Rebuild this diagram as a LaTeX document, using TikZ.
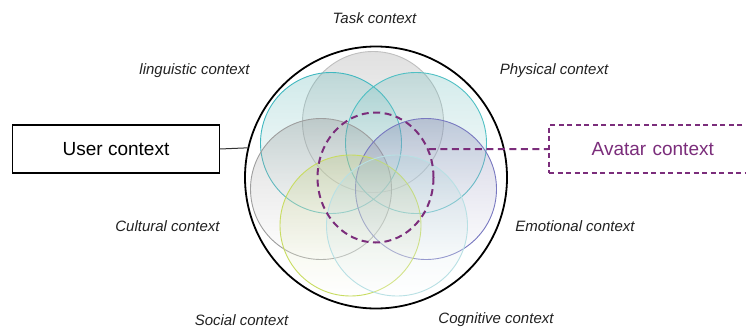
\documentclass[tikz,border=0pt]{standalone}
\usepackage{fontspec}
\setmainfont{Liberation Sans}
\usetikzlibrary{shapes.geometric}
\definecolor{avpurple}{HTML}{7B2D7B}
\definecolor{labelgray}{HTML}{222222}
\tikzset{
  ctxlabel/.style={font=\fontsize{15}{18}\selectfont\itshape, text=labelgray, inner sep=0},
  bigbox/.style={draw, line width=1.1pt, minimum height=48pt, inner sep=0, font=\fontsize{19}{22}\selectfont},
  bubble/.style={circle, minimum size=141pt, inner sep=0, line width=0.9pt, fill opacity=0.28, draw opacity=1, shading angle=40},
}
\begin{document}
\begin{tikzpicture}[x=1pt,y=-1pt]
\useasboundingbox (0,0) rectangle (746,329);
\clip (0,0) rectangle (746,329);
\fill[white] (0,0) rectangle (746,329);
% outer circle
\node[circle, draw, line width=1.8pt, minimum size=262pt, inner sep=0, fill=white] (big) at (376,177.5) {};
% bubbles
\node[bubble, top color=black!42, middle color=black!8, bottom color=white, draw=black!25] (task) at (373,122) {};
\node[bubble, top color=cyan!55!black!65, middle color=cyan!30!black!10, bottom color=white, draw={rgb,255:red,64;green,184;blue,192}] (ling) at (331,143) {};
\node[bubble, top color=cyan!55!black!60, middle color=cyan!30!black!8, bottom color=white, draw={rgb,255:red,80;green,192;blue,196}] (phys) at (416,143) {};
\node[bubble, top color=black!48, middle color=black!8, bottom color=white, draw=black!38] (cult) at (321,189) {};
\node[bubble, top color={rgb,255:red,100;green,100;blue,160}, middle color={rgb,255:red,222;green,222;blue,236}, bottom color=white, draw={rgb,255:red,120;green,120;blue,192}] (emo) at (426,189) {};
\node[bubble, top color={rgb,255:red,185;green,200;blue,110}, middle color={rgb,255:red,238;green,242;blue,220}, bottom color=white, draw={rgb,255:red,200;green,220;blue,96}] (soc) at (350.5,225.5) {};
\node[bubble, top color={rgb,255:red,165;green,205;blue,212}, middle color={rgb,255:red,232;green,244;blue,246}, bottom color=white, draw={rgb,255:red,184;green,224;blue,228}] (cog) at (397,225.5) {};
% avatar dashed ellipse
\node[ellipse, draw=avpurple, dash pattern=on 7pt off 4.5pt, line width=2pt, minimum width=116pt, minimum height=130pt, inner sep=0] (av) at (375.5,177.5) {};
% boxes
\node[bigbox, minimum width=206.6pt] (user) at (116,149) {User context};
\node[bigbox, draw=avpurple, text=avpurple, dash pattern=on 5pt off 3.5pt, line width=1.3pt, minimum width=200pt, text width=200pt, align=left] (avatar) at (649,149) {\hspace{42.7pt}Avatar context};
% connectors
\coordinate (bigL) at (big.167.7);
\coordinate (avR) at (av.28.7);
\draw[line width=1pt, black!80] (user.east) -- (bigL);
\draw[avpurple, line width=2pt, dash pattern=on 7pt off 4.5pt] (avR) -- (avatar.west);
% labels
\node[ctxlabel] (lt) at (374.5,18) {Task context};
\node[ctxlabel] (ll) at (194.5,71) {linguistic context};
\node[ctxlabel] (lp) at (554,71) {Physical context};
\node[ctxlabel] (lc) at (167.5,226.5) {Cultural context};
\node[ctxlabel] (le) at (575,226.5) {Emotional context};
\node[ctxlabel] (ls) at (241.5,320) {Social context};
\node[ctxlabel] (lg) at (496,320) {Cognitive context};
\end{tikzpicture}
\end{document}
